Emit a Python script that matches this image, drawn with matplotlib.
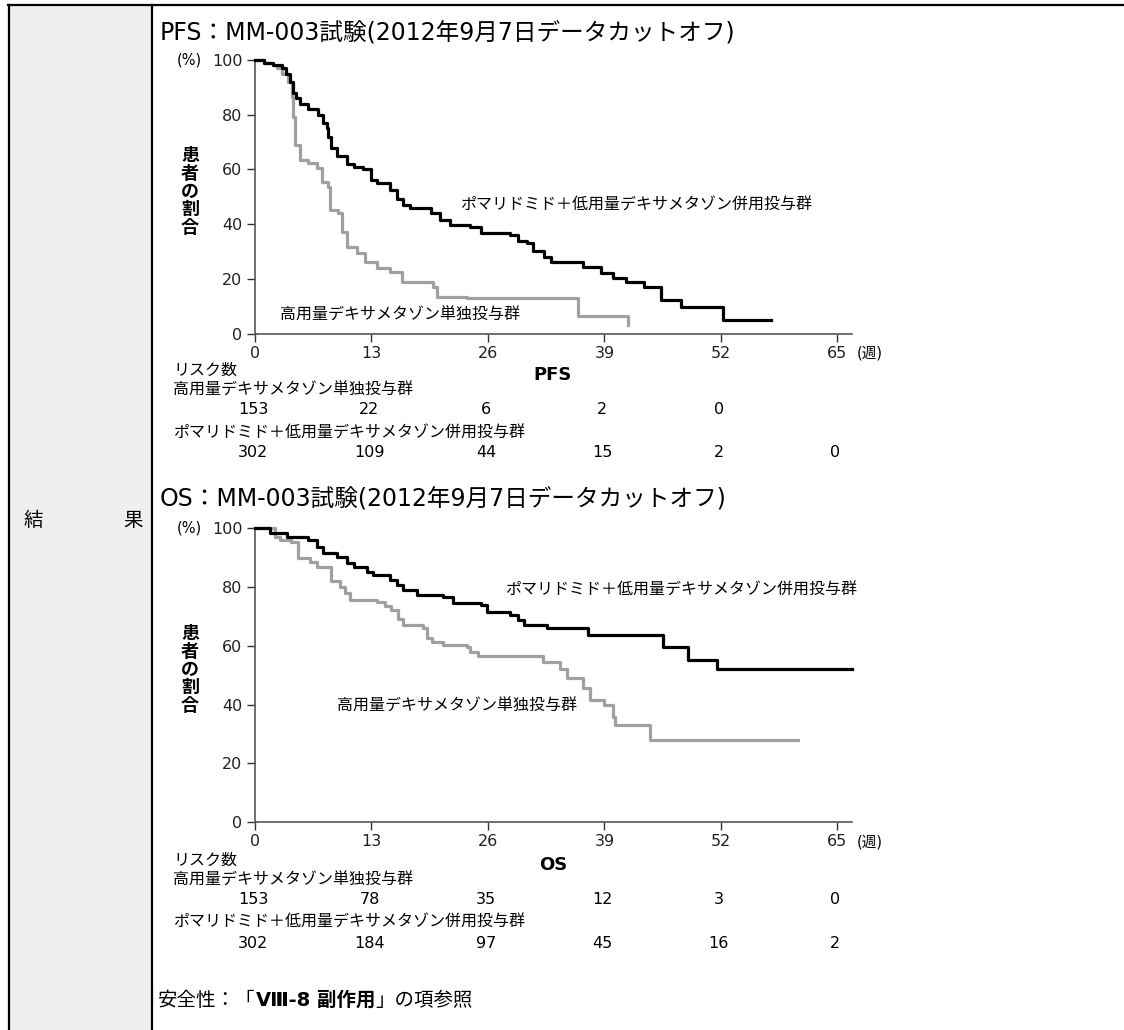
import matplotlib
matplotlib.use("Agg")
import matplotlib.pyplot as plt
import matplotlib.transforms as mtransforms
from matplotlib.patches import Rectangle
from matplotlib.lines import Line2D

# DejaVu for latin/digits, Noto CJK for the Japanese glyphs
plt.rcParams['font.family'] = ['DejaVu Sans', 'Noto Sans CJK JP']

W, H = 1124, 1030

# ---- data (weeks, % of patients) ----
pfs_pom_t = [0, 1.0, 2.0, 3.0, 3.5, 3.9, 4.2, 4.6, 5.0, 5.9, 7.0, 7.6, 8.0, 8.2, 8.5, 9.2,
             10.3, 11.0, 12.1, 12.9, 13.6, 15.1, 15.9, 16.5, 17.3, 19.6, 20.7, 21.8, 24.0,
             25.2, 28.5, 29.3, 30.4, 31.0, 32.2, 33.0, 36.6, 38.6, 40.0, 41.4, 43.4, 45.3,
             47.5, 52.2, 57.6]
pfs_pom_s = [100, 99, 98, 97, 95, 92, 88, 86, 84, 82, 80, 77, 75, 72, 68, 65,
             62, 61, 60, 56, 55, 52.5, 49, 47, 46, 44, 41.5, 39.7, 39,
             36.7, 36, 34, 33, 30, 28, 26, 24.3, 22, 20.3, 18.8, 17, 12.2,
             9.7, 4.9, 4.9]

pfs_dex_t = [0, 1.0, 2.0, 2.5, 3.0, 3.7, 4.1, 4.25, 4.5, 5.0, 5.9, 6.9, 7.5, 8.2, 8.4,
             9.3, 9.7, 10.3, 11.4, 12.3, 13.6, 15.1, 16.4, 19.9, 20.3, 23.7, 36.1, 41.6]
pfs_dex_s = [100, 99, 98, 97, 95, 92, 86.5, 79, 69, 63.4, 62.3, 60.5, 55.4, 53.6, 45.2,
             44, 37.1, 31.6, 29.4, 26.1, 24, 22.5, 18.8, 17, 13.3, 12.9, 6.4, 3.0]

os_pom_t = [0, 1.7, 3.6, 5.9, 6.9, 7.6, 9.2, 10.3, 11.0, 12.5, 13.2, 15.1, 15.9, 16.5,
            18.1, 21.0, 22.1, 25.2, 25.9, 28.5, 29.3, 30.0, 32.6, 37.2, 45.5, 48.3,
            51.6, 66.6]
os_pom_s = [100, 98.4, 97.0, 96.0, 93.6, 91.6, 90.2, 88.2, 86.8, 85.1, 84.1, 82.4, 80.7,
            79.0, 77.3, 76.6, 74.6, 73.9, 71.5, 70.5, 68.8, 67.1, 66.1, 63.7, 59.6, 55.2,
            52.1, 52.1]

os_dex_t = [0, 2.2, 2.8, 4.0, 4.8, 6.1, 6.9, 8.5, 9.5, 10.0, 10.6, 13.6, 14.5, 15.2,
            16.0, 16.5, 18.8, 19.2, 19.8, 21.0, 23.7, 24.0, 24.9, 32.1, 34.0, 34.8, 36.6,
            37.4, 38.9, 40.0, 40.2, 44.1, 60.6]
os_dex_s = [100, 97, 96, 95.3, 90, 88.5, 86.8, 82, 80, 78, 75.6, 74.9, 73.5, 72.3,
            69, 67, 66, 62.6, 61.3, 60.3, 59.6, 58, 56.5, 54.5, 52, 49, 45.5,
            41.5, 39.8, 35.9, 33, 28, 28]

x_ticks = [0, 13, 26, 39, 52, 65]
y_ticks = [0, 20, 40, 60, 80, 100]

risk_label = "リスク数"
dex_label = "高用量デキサメタゾン単独投与群"
pom_label = "ポマリドミド＋低用量デキサメタゾン併用投与群"

pfs_risk_dex = ["153", "22", "6", "2", "0"]
pfs_risk_pom = ["302", "109", "44", "15", "2", "0"]
os_risk_dex = ["153", "78", "35", "12", "3", "0"]
os_risk_pom = ["302", "184", "97", "45", "16", "2"]


def fx(x):
    return x / W


def fy(y):
    return 1 - y / H


fig = plt.figure(figsize=(W / 100, H / 100), dpi=100)

# table frame
fig.patches.append(Rectangle((fx(9), 0), fx(152) - fx(9), fy(5), transform=fig.transFigure,
                             facecolor="#efefef", edgecolor="none", zorder=0))
for line in [((fx(8), fx(1124)), (fy(5), fy(5))),
             ((fx(8.5), fx(8.5)), (0, fy(5))),
             ((fx(152), fx(152)), (0, fy(5)))]:
    fig.lines.append(Line2D(line[0], line[1], transform=fig.transFigure, color="black", lw=1.6))

fig.text(fx(24), fy(520), "結", fontsize=14, va="center", ha="left")
fig.text(fx(143), fy(520), "果", fontsize=14, va="center", ha="right")


def km_panel(top, bottom, title, title_y, name, t_pom, s_pom, t_dex, s_dex,
             pom_xy, dex_xy, risk_dex, risk_pom, row_y):
    ax = fig.add_axes([fx(255), fy(bottom), fx(852) - fx(255), fy(top) - fy(bottom)])
    ax.step(t_pom, s_pom, where="post", color="black", lw=2.3, clip_on=False, zorder=3)
    ax.step(t_dex, s_dex, where="post", color="#a0a0a0", lw=2.3, clip_on=False, zorder=2)
    ax.set_xlim(0, 66.63)
    ax.set_ylim(0, 100)
    ax.set_xticks(x_ticks)
    ax.set_yticks(y_ticks)
    ax.tick_params(labelsize=11.5, length=6, width=1, color="#333333", pad=3,
                   labelcolor="#222222")
    for s in ["top", "right"]:
        ax.spines[s].set_visible(False)
    for s in ["left", "bottom"]:
        ax.spines[s].set_color("#555555")
        ax.spines[s].set_linewidth(1.2)

    fig.text(fx(160), fy(title_y), title, fontsize=17, va="center", ha="left")
    fig.text(fx(177), fy(top), "(%)", fontsize=10.5, va="center", ha="left")
    fig.text(fx(852 + 5), fy(bottom + 20), "(週)", fontsize=10.5, va="center", ha="left")
    fig.text(fx(190), fy((top + bottom) / 2 - 5), "\n".join("患者の割合"), fontsize=13,
             fontweight="bold", va="center", ha="center", linespacing=1.0)
    fig.text(fx(pom_xy[0]), fy(pom_xy[1]), pom_label, fontsize=11.5, va="center", ha="left")
    fig.text(fx(dex_xy[0]), fy(dex_xy[1]), dex_label, fontsize=11.5, va="center", ha="left")

    fig.text(fx(173), fy(row_y[0]), risk_label, fontsize=11.5, va="center", ha="left")
    fig.text(fx(553), fy(row_y[0] + 5), name, fontsize=13, fontweight="bold",
             va="center", ha="center")
    fig.text(fx(173), fy(row_y[1]), dex_label, fontsize=11.5, va="center", ha="left")
    fig.text(fx(173), fy(row_y[3]), pom_label, fontsize=11.5, va="center", ha="left")
    tr = mtransforms.blended_transform_factory(ax.transData, fig.transFigure)
    tr = mtransforms.offset_copy(tr, fig=fig, x=-2, y=0, units="dots")
    for wk, v in zip(x_ticks, risk_dex):
        fig.text(wk, fy(row_y[2]), v, transform=tr, fontsize=11.5, va="center", ha="center")
    for wk, v in zip(x_ticks, risk_pom):
        fig.text(wk, fy(row_y[4]), v, transform=tr, fontsize=11.5, va="center", ha="center")
    return ax


km_panel(60, 333.5, "PFS：MM-003試験(2012年9月7日データカットオフ)", 33, "PFS",
         pfs_pom_t, pfs_pom_s, pfs_dex_t, pfs_dex_s,
         (460, 205), (280, 315), pfs_risk_dex, pfs_risk_pom,
         (370, 390, 410, 433, 453))
km_panel(528.3, 822, "OS：MM-003試験(2012年9月7日データカットオフ)", 500, "OS",
         os_pom_t, os_pom_s, os_dex_t, os_dex_s,
         (505, 590), (337, 706), os_risk_dex, os_risk_pom,
         (860, 880, 900, 922, 943))

# safety note, with the bold middle part
fig.canvas.draw()
r = fig.canvas.get_renderer()
parts = [("安全性：「", "normal"), ("Ⅷ-8 副作用", "bold"), ("」の項参照", "normal")]
x = fx(158)
for txt, wt in parts:
    t = fig.text(x, fy(1000), txt, fontsize=14, fontweight=wt, va="center", ha="left")
    bb = t.get_window_extent(r)
    x = bb.x1 / W

fig.savefig("out.png", dpi=100)
